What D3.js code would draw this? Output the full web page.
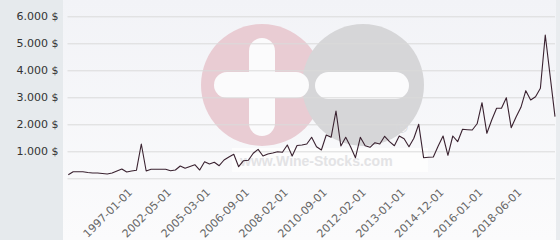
<!DOCTYPE html>
<html>
<head>
<meta charset="utf-8">
<script src="https://cdn.jsdelivr.net/npm/d3@7"></script>
<style>
  html, body { margin: 0; padding: 0; background: #fff; }
  svg { display: block; font-family: "DejaVu Sans", sans-serif; }
</style>
</head>
<body>
<svg id="chart"></svg>
<script>
// price series, one value per sale date (categorical x axis)
const prices = [
  130, 244, 244, 244, 215, 196, 196, 178, 159, 196,
  270, 344, 233, 270, 296, 1270, 270, 333, 333, 333,
  333, 281, 307, 456, 370, 437, 504, 307, 615, 530,
  593, 467, 678, 789, 889, 430, 652, 667, 926, 1074,
  826, 900, 937, 985, 963, 1233, 826, 1215, 1233, 1270,
  1519, 1170, 1048, 1604, 1519, 2493, 1196, 1519, 1170, 763,
  1519, 1207, 1148, 1319, 1270, 1556, 1356, 1207, 1567, 1467,
  1170, 1482, 2000, 763, 778, 789, 1196, 1567, 852, 1567,
  1356, 1815, 1800, 1789, 2020, 2800, 1667, 2159, 2593, 2593,
  2985, 1874, 2270, 2630, 3245, 2900, 3022, 3333, 5308, 3789,
  2282
];
// which points carry a date label
const labelIndex = [13, 21, 29, 37, 45, 53, 61, 69, 77, 85, 93];
const labelText = ['1997-01-01', '2002-05-01', '2005-03-01', '2006-09-01', '2008-02-01',
  '2010-09-01', '2012-02-01', '2013-01-01', '2014-12-01', '2016-01-01', '2018-06-01'];
const yTicks = [0, 1000, 2000, 3000, 4000, 5000, 6000];

const width = 560, height = 240;
const plotLeft = 63, xStart = 68.3, xEnd = 555;

const svg = d3.select('#chart')
  .attr('width', width)
  .attr('height', height);

const defs = svg.append('defs');
const grad = defs.append('linearGradient')
  .attr('id', 'bg-grad')
  .attr('x1', 0).attr('y1', 0).attr('x2', 0).attr('y2', 1);
grad.append('stop').attr('offset', '0%').attr('stop-color', '#f2f3f7');
grad.append('stop').attr('offset', '100%').attr('stop-color', '#fbfbfc');

// panels
svg.append('rect')
  .attr('width', width).attr('height', height)
  .attr('fill', '#e6eaed');
svg.append('rect')
  .attr('x', plotLeft).attr('width', 493).attr('height', height)
  .attr('fill', 'url(#bg-grad)');

// watermark logo
const wm = svg.append('g').attr('class', 'watermark');
wm.append('rect')
  .attr('x', 232).attr('y', 148).attr('width', 196).attr('height', 24)
  .attr('fill', '#fdfdfd');
wm.append('circle').attr('cx', 262).attr('cy', 85).attr('r', 61).attr('fill', '#e9ccd3');
wm.append('circle').attr('cx', 363).attr('cy', 85).attr('r', 61).attr('fill', '#d6d6d8');
wm.append('rect')
  .attr('x', 214).attr('y', 72).attr('width', 95).attr('height', 26).attr('rx', 13)
  .attr('fill', '#fbfbfc');
wm.append('rect')
  .attr('x', 249).attr('y', 38).attr('width', 26).attr('height', 98).attr('rx', 13)
  .attr('fill', '#fbfbfc');
wm.append('rect')
  .attr('x', 315).attr('y', 72).attr('width', 94).attr('height', 27).attr('rx', 13.5)
  .attr('fill', '#fbfbfc');
wm.append('text')
  .attr('x', 240).attr('y', 166)
  .attr('font-family', '"Liberation Sans", Arial, sans-serif')
  .attr('font-size', 14).attr('font-weight', 'bold')
  .attr('fill', '#e3e3e5')
  .text('www.Wine-Stocks.com');
wm.append('text')
  .attr('x', 396).attr('y', 133)
  .attr('font-family', '"Liberation Sans", Arial, sans-serif')
  .attr('font-size', 16)
  .attr('fill', '#d8d8da')
  .text('®');

// right border strip
svg.append('rect')
  .attr('x', 556).attr('width', 4).attr('height', height)
  .attr('fill', '#e9ecef');

// scales
const xScale = d3.scalePoint()
  .domain(d3.range(prices.length))
  .range([xStart, xEnd]);

const yScale = d3.scaleLinear()
  .domain([0, 6000])
  .range([178.3, 16.3]);

// y axis with grid lines
const yAxis = d3.axisLeft(yScale)
  .tickValues(yTicks)
  .tickSize(-(xEnd - 67.5))
  .tickPadding(9)
  .tickFormat(d => d === 0 ? '' : d3.format(',')(d).replace(/,/g, '.') + ' $');

const yAxisG = svg.append('g')
  .attr('transform', 'translate(67.5,0)')
  .call(yAxis);
yAxisG.select('.domain').remove();
yAxisG.selectAll('.tick line').attr('stroke', '#dadada');
yAxisG.selectAll('text')
  .attr('fill', '#333')
  .style('font-size', '11px')
  .style('font-family', '"DejaVu Sans", sans-serif');

// x axis labels, rotated
const xAxis = d3.axisBottom(xScale)
  .tickValues(labelIndex)
  .tickSize(0)
  .tickFormat(i => labelText[labelIndex.indexOf(i)]);

const xAxisG = svg.append('g')
  .attr('transform', 'translate(0,178)')
  .call(xAxis);
xAxisG.select('.domain').remove();
xAxisG.selectAll('text')
  .attr('fill', '#666')
  .style('font-size', '11px')
  .style('font-family', '"DejaVu Sans", sans-serif')
  .style('text-anchor', 'end')
  .attr('dy', null)
  .attr('y', null)
  .attr('transform', 'translate(1,15) rotate(-45)');

// price line
const line = d3.line()
  .x((d, i) => xScale(i))
  .y(d => yScale(d));

svg.append('path')
  .datum(prices)
  .attr('d', line)
  .attr('fill', 'none')
  .attr('stroke', '#3a2230')
  .attr('stroke-width', 1.1)
  .attr('stroke-linejoin', 'round');
</script>
</body>
</html>
